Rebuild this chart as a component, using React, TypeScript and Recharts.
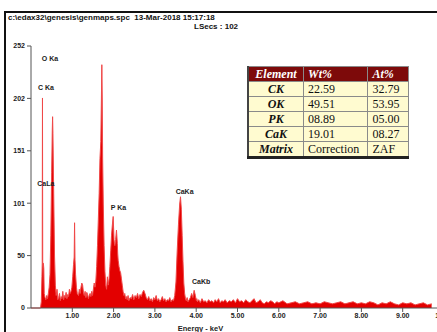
import { AreaChart, Area, XAxis, YAxis, ReferenceDot } from "recharts";

// spectrum points, keV and counts
const energyKeV = [
  0, 0.23, 0.25, 0.265, 0.272, 0.278, 0.284, 0.29, 0.3, 0.31, 0.32, 0.34, 0.36, 0.38, 0.4, 0.42, 0.44, 0.46, 0.48,
  0.5, 0.515, 0.523, 0.531, 0.55, 0.57, 0.59, 0.61, 0.63, 0.65, 0.67, 0.69, 0.71, 0.73, 0.75, 0.77, 0.79, 0.81,
  0.83, 0.85, 0.87, 0.89, 0.91, 0.93, 0.95, 0.97, 0.99, 1.01, 1.03, 1.045, 1.055, 1.065, 1.08, 1.1, 1.12, 1.15,
  1.17, 1.19, 1.21, 1.23, 1.25, 1.27, 1.29, 1.31, 1.33, 1.35, 1.37, 1.39, 1.41, 1.43, 1.45, 1.47, 1.49, 1.51,
  1.53, 1.55, 1.57, 1.59, 1.61, 1.63, 1.65, 1.67, 1.69, 1.705, 1.715, 1.725, 1.735, 1.75, 1.77, 1.79, 1.81, 1.83,
  1.85, 1.87, 1.89, 1.91, 1.93, 1.95, 1.97, 1.99, 2.01, 2.02, 2.03, 2.05, 2.07, 2.09, 2.1, 2.11, 2.13, 2.15,
  2.17, 2.19, 2.21, 2.23, 2.25, 2.27, 2.29, 2.31, 2.33, 2.35, 2.37, 2.4, 2.43, 2.46, 2.49, 2.52, 2.55, 2.58,
  2.61, 2.64, 2.67, 2.7, 2.73, 2.76, 2.79, 2.82, 2.85, 2.88, 2.91, 2.94, 2.97, 3.0, 3.03, 3.06, 3.09, 3.12,
  3.15, 3.18, 3.21, 3.24, 3.27, 3.3, 3.33, 3.36, 3.39, 3.42, 3.45, 3.48, 3.51, 3.54, 3.57, 3.6, 3.62, 3.64,
  3.66, 3.68, 3.7, 3.72, 3.74, 3.76, 3.78, 3.8, 3.83, 3.86, 3.89, 3.92, 3.95, 3.98, 4.005, 4.015, 4.03, 4.06,
  4.1, 4.14, 4.18, 4.22, 4.26, 4.3, 4.34, 4.38, 4.42, 4.46, 4.5, 4.54, 4.58, 4.62, 4.66, 4.7, 4.75, 4.8, 4.85,
  4.9, 4.95, 5.0, 5.05, 5.1, 5.15, 5.2, 5.25, 5.3, 5.35, 5.4, 5.45, 5.5, 5.55, 5.6, 5.65, 5.7, 5.75, 5.8, 5.85,
  5.9, 5.95, 6.0, 6.1, 6.2, 6.3, 6.4, 6.5, 6.6, 6.7, 6.8, 6.9, 7.0, 7.1, 7.2, 7.3, 7.4, 7.5, 7.6, 7.7, 7.8,
  7.9, 8.0, 8.1, 8.2, 8.3, 8.4, 8.5, 8.6, 8.7, 8.8, 8.9, 9.0, 9.1, 9.2, 9.3, 9.4, 9.5, 9.6, 9.7, 9.8, 9.9, 10.0,
];
const counts = [
  0, 0, 6, 30, 43, 202, 45, 40, 43, 38, 14, 10, 8, 12, 9, 14, 20, 32, 70,
  130, 171, 184, 168, 110, 50, 22, 12, 18, 8, 10, 14, 7, 11, 9, 16, 8, 12,
  10, 15, 9, 13, 11, 18, 14, 16, 20, 30, 42, 49, 82, 47, 32, 20, 14, 12,
  18, 14, 20, 24, 22, 15, 12, 16, 10, 15, 13, 9, 12, 14, 11, 16, 12, 18,
  24, 20, 26, 40, 60, 85, 110, 144, 160, 202, 234, 202, 144, 100, 60, 35, 22, 18,
  30, 22, 28, 40, 55, 70, 80, 88, 66, 62, 60, 66, 75, 62, 52, 46,
  40, 36, 34, 28, 22, 16, 12, 14, 9, 11, 8, 12, 7, 10, 9, 13, 8, 12,
  10, 14, 9, 13, 11, 15, 17, 14, 10, 8, 11, 7, 9, 6, 10, 8, 12, 7,
  9, 6, 8, 11, 7, 9, 6, 8, 7, 10, 6, 8, 7, 12, 25, 55, 80, 100, 107, 95,
  70, 45, 24, 14, 9, 7, 10, 6, 8, 10, 14, 10, 17, 12, 7, 9,
  6, 8, 5, 9, 6, 7, 5, 8, 6, 7, 5, 8, 6, 9, 5, 7, 6, 8, 5,
  7, 6, 8, 5, 9, 6, 7, 5, 8, 6, 5, 7, 9, 5, 6, 8, 5, 4, 6,
  5, 7, 6, 4, 6, 5, 7, 4, 5, 6, 4, 5, 6, 4, 5, 4, 6, 5, 4,
  5, 6, 4, 5, 6, 4, 5, 4, 6, 5, 3, 5, 4, 6, 4, 3, 5, 4, 5, 3, 4, 5, 3, 4,
];

const yTicks = [0, 50.4, 100.8, 151.2, 201.6, 252];
const xTicks = [1, 2, 3, 4, 5, 6, 7, 8, 9, 10];

const peakNames = ["O Ka", "C Ka", "CaLa", "P Ka", "CaKa", "CaKb"];
const peakEnergy = [0.46, 0.36, 0.36, 2.12, 3.72, 4.12];
const peakCounts = [240, 212, 120, 97, 112, 25];

const tableElements = ["CK", "OK", "PK", "CaK", "Matrix"];
const tableWt = ["22.59", "49.51", "08.89", "19.01", "Correction"];
const tableAt = ["32.79", "53.95", "05.00", "08.27", "ZAF"];

const data = energyKeV.map((e, i) => ({ e, c: counts[i] }));

const tickFont = { fontFamily: "Liberation Sans, Arial, sans-serif", fontSize: 7, fontWeight: 700, fill: "#222" };

const cellStyle = {
  border: "1px solid #8a8a8a",
  padding: "0 4px",
  height: 14,
  lineHeight: "13px",
};

export default function App() {
  return (
    <div
      style={{
        position: "fixed",
        left: 0,
        top: 0,
        width: 437,
        height: 332,
        overflow: "hidden",
        background: "#fff",
      }}
    >
      <div style={{ position: "absolute", left: 4, top: 11, width: 440, height: 2, background: "#111" }} />
      <div style={{ position: "absolute", left: 4, top: 11, width: 2, height: 330, background: "#111" }} />
      <div
        style={{
          position: "absolute",
          left: 8,
          top: 13,
          font: "bold 8px 'Liberation Sans', Arial, sans-serif",
          color: "#111",
          whiteSpace: "nowrap",
        }}
      >
        c:\edax32\genesis\genmaps.spc&nbsp; 13-Mar-2018 15:17:18
      </div>
      <div
        style={{
          position: "absolute",
          left: 194,
          top: 22,
          font: "bold 8px 'Liberation Sans', Arial, sans-serif",
          color: "#111",
          whiteSpace: "nowrap",
        }}
      >
        LSecs : 102
      </div>

      <div style={{ position: "absolute", left: 0, top: 0 }}>
        <AreaChart width={460} height={332} data={data} margin={{ top: 46, right: 16, bottom: 0, left: 0 }}>
          <XAxis
            dataKey="e"
            type="number"
            domain={[0, 10]}
            ticks={xTicks}
            tickFormatter={(v: number) => v.toFixed(2)}
            tick={tickFont}
            tickSize={4}
            tickMargin={1}
            height={24}
            stroke="#555"
            label={{
              value: "Energy - keV",
              position: "insideBottom",
              offset: 1,
              dx: -37,
              style: { ...tickFont, fontSize: 7.5 },
            }}
          />
          <YAxis
            type="number"
            domain={[0, 252]}
            ticks={yTicks}
            tickFormatter={(v: number) => String(Math.round(v))}
            tick={tickFont}
            tickSize={4}
            tickMargin={2}
            width={31}
            stroke="#555"
            interval={0}
          />
          <Area
            type="linear"
            dataKey="c"
            stroke="#f04848"
            strokeWidth={1}
            fill="#e30000"
            fillOpacity={1}
            dot={false}
            activeDot={false}
            isAnimationActive={false}
          />
          {peakNames.map((name, i) => (
            <ReferenceDot
              key={name}
              x={peakEnergy[i]}
              y={peakCounts[i]}
              r={0}
              label={{ value: name, position: "center", style: tickFont }}
            />
          ))}
        </AreaChart>
      </div>

      <table
        style={{
          position: "absolute",
          left: 247,
          top: 66,
          width: 162,
          borderCollapse: "collapse",
          fontFamily: "'Liberation Serif', 'Times New Roman', serif",
          fontSize: 12,
          color: "#111",
          borderBottom: "3px solid #222",
          borderLeft: "2px solid #444",
        }}
      >
        <colgroup>
          <col style={{ width: 56 }} />
          <col style={{ width: 65 }} />
          <col style={{ width: 41 }} />
        </colgroup>
        <thead>
          <tr style={{ background: "#7d0a0a", color: "#fff", fontWeight: 700, fontStyle: "italic" }}>
            {["Element", "Wt%", "At%"].map((h) => (
              <td key={h} style={{ ...cellStyle, textAlign: h === "Element" ? "center" : "left" }}>
                {h}
              </td>
            ))}
          </tr>
        </thead>
        <tbody>
          {tableElements.map((el, i) => (
            <tr key={el} style={{ background: "#fffbd0" }}>
              <td style={{ ...cellStyle, fontWeight: 700, fontStyle: "italic", textAlign: "center" }}>{el}</td>
              <td style={cellStyle}>{tableWt[i]}</td>
              <td style={cellStyle}>{tableAt[i]}</td>
            </tr>
          ))}
        </tbody>
      </table>
    </div>
  );
}
